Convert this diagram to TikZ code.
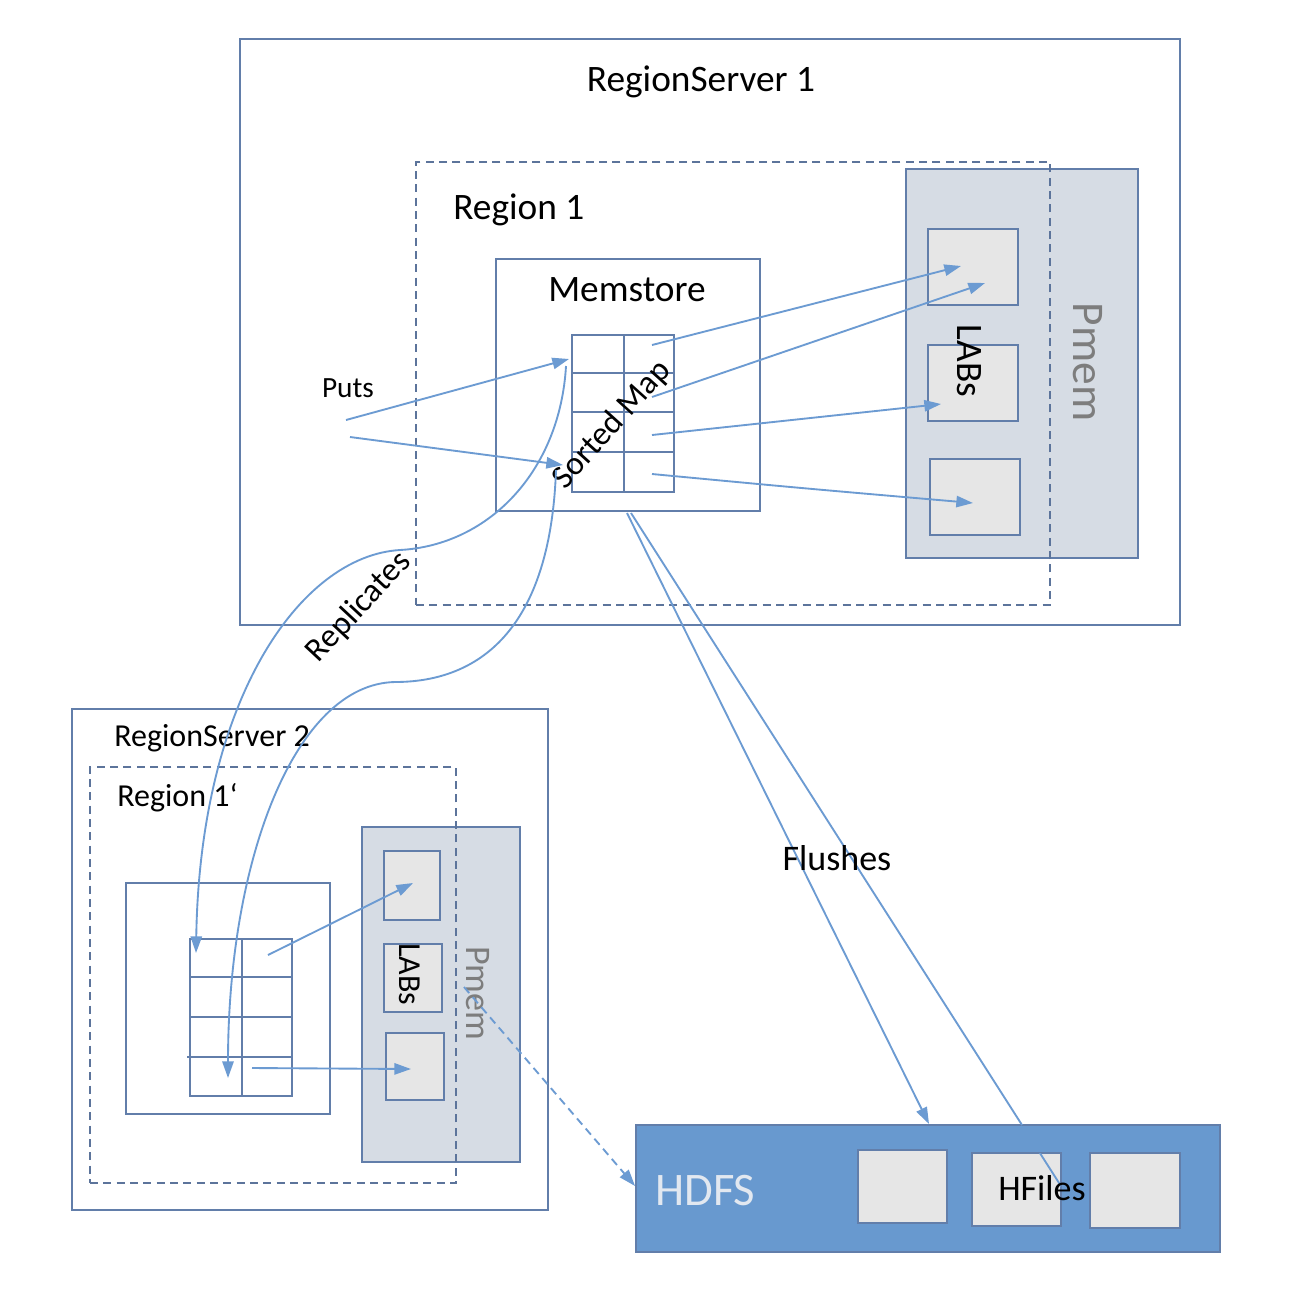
\documentclass[tikz,border=0pt]{standalone}
\usepackage{fontspec}
\setmainfont{Carlito}
\usetikzlibrary{arrows.meta,fit,calc}
\definecolor{boxline}{RGB}{98,126,170}
\definecolor{dashline}{RGB}{92,116,155}
\definecolor{arrowc}{RGB}{108,155,210}
\definecolor{pmemfill}{RGB}{214,220,228}
\definecolor{labfill}{RGB}{230,230,230}
\definecolor{hdfsfill}{RGB}{104,153,207}
\definecolor{pmemtext}{RGB}{125,125,125}
\definecolor{hdfstext}{RGB}{226,232,240}
\begin{document}
\begin{tikzpicture}[x=0.75pt,y=-0.75pt,
  box/.style={draw=boxline, line width=1.4pt, inner sep=0pt},
  regionbox/.style={draw=dashline, line width=1.3pt, dash pattern=on 6pt off 4pt, inner sep=0pt},
  pmembox/.style={box, fill=pmemfill},
  labbox/.style={box, fill=labfill},
  hdfsbox/.style={draw=boxline, fill=hdfsfill, line width=1.4pt, inner sep=0pt},
  gridline/.style={draw=boxline, line width=1.3pt},
  conn/.style={draw=arrowc, line width=1.4pt},
  arr/.style={conn, -{Triangle[length=12.5pt,width=8.5pt]}},
  lbl/.style={inner sep=0pt, text=black},
  big/.style={font=\fontsize{28}{32}\selectfont},
  mid/.style={font=\fontsize{24}{28}\selectfont},
  small/.style={font=\fontsize{22}{26}\selectfont},
]
\useasboundingbox (0,0) rectangle (1302,1290);
\fill[white] (0,0) rectangle (1302,1290);

% ---------- RegionServer 1 ----------
\node[box, fit={(240,39) (1180,625)}] (rs1) {};
\node[lbl, big] (trs1) at (701,82) {RegionServer 1};
\node[pmembox, fit={(906,169) (1138,558)}] (pmem1) {};
\node[regionbox, fit={(416,162) (1050,605)}] (reg1) {};
\node[lbl, big, anchor=west] (treg1) at (453,210) {Region 1};
\node[box, fit={(496,259) (760,511)}] (mem1) {};
\node[lbl, big] (tmem1) at (627,290) {Memstore};
\node[box, fit={(572,335) (674,492)}] (map1) {};
\draw[gridline] (624,335) -- (624,492);
\draw[gridline] (572,373) -- (674,373);
\draw[gridline] (572,412) -- (674,412);
\draw[gridline] (572,452) -- (674,452);
\node[labbox, fit={(928,229) (1018,305)}] (lab1a) {};
\node[labbox, fit={(928,345) (1018,421)}] (lab1b) {};
\node[labbox, fit={(930,459) (1020,535)}] (lab1c) {};
\node[lbl, big, rotate=-90] (tlabs1) at (969,361) {LABs};
\node[lbl, text=pmemtext, font=\fontsize{34}{40}\selectfont, rotate=-90] (tpmem1) at (1088,362) {Pmem};
\node[lbl, rotate=48, font=\fontsize{25}{30}\selectfont] (tmap1) at (612,425) {Sorted Map};

% ---------- Puts ----------
\node[lbl, small] (tputs) at (348,388) {Puts};
\coordinate (p1s) at (346,420);
\coordinate (p2s) at (350,437);
\coordinate (m1in1) at (569,359);
\coordinate (m1in2) at (563,465);
\draw[arr] (p1s) -- (m1in1);
\draw[arr] (p2s) -- (m1in2);

% ---------- Memstore -> LABs ----------
\coordinate (ms1) at (652,345);
\coordinate (ms2) at (652,397);
\coordinate (ms3) at (652,435);
\coordinate (ms4) at (652,474);
\coordinate (l1) at (961,266);
\coordinate (l2) at (985,283);
\coordinate (l3) at (941,404);
\coordinate (l4) at (973,503);
\draw[arr] (ms1) -- (l1);
\draw[arr] (ms2) -- (l2);
\draw[arr] (ms3) -- (l3);
\draw[arr] (ms4) .. controls (800,488) .. (l4);

% ---------- RegionServer 2 ----------
\node[box, fit={(72,709) (548,1210)}] (rs2) {};
\node[lbl, mid, anchor=west] (trs2) at (114,738) {RegionServer 2};
\node[pmembox, fit={(362,827) (520,1162)}] (pmem2) {};
\node[regionbox, fit={(90,767) (456,1183)}] (reg2) {};
\node[lbl, mid, anchor=west] (treg2) at (117,798) {Region 1\symbol{96}};
\node[box, fit={(126,883) (330,1114)}] (mem2) {};
\node[box, fit={(190,939) (292,1096)}] (map2) {};
\draw[gridline] (242,939) -- (242,1096);
\draw[gridline] (190,977) -- (292,977);
\draw[gridline] (190,1017) -- (292,1017);
\draw[gridline] (187,1057) -- (292,1057);
\node[labbox, fit={(384,851) (440,920)}] (lab2a) {};
\node[labbox, fit={(384,944) (442,1012)}] (lab2b) {};
\node[labbox, fit={(386,1033) (444,1100)}] (lab2c) {};
\node[lbl, mid, rotate=-90] (tlabs2) at (410,974) {LABs};
\node[lbl, text=pmemtext, font=\fontsize{27}{32}\selectfont, rotate=-90] (tpmem2) at (478,993) {Pmem};
\coordinate (m2s1) at (268,955);
\coordinate (m2s2) at (252,1068);
\coordinate (l2a) at (413,883);
\coordinate (l2c) at (411,1069);
\draw[arr] (m2s1) -- (l2a);
\draw[arr] (m2s2) -- (l2c);

% ---------- Replicates ----------
\coordinate (r1s) at (566,366);
\coordinate (r1e) at (196,953);
\coordinate (r2s) at (556,470);
\coordinate (r2e) at (228,1078);
\draw[arr] (r1s) .. controls (560,470) and (490,545) .. (400,550)
               .. controls (300,556) and (200,700) .. (r1e);
\draw[arr] (r2s) .. controls (550,640) and (470,682) .. (395,682)
               .. controls (295,684) and (228,860) .. (r2e);
\node[lbl, rotate=47, font=\fontsize{25}{30}\selectfont] (trep) at (359,607) {Replicates};

% ---------- HDFS ----------
\node[hdfsbox, fit={(636,1125) (1220,1252)}] (hdfs) {};
\node[lbl, anchor=west, text=hdfstext, font=\fontsize{35}{40}\selectfont] (thdfs) at (655,1190) {HDFS};
\node[labbox, fit={(858,1150) (947,1223)}] (hf1) {};
\node[labbox, fit={(972,1153) (1061,1226)}] (hf2) {};
\node[labbox, fit={(1090,1153) (1180,1228)}] (hf3) {};

% ---------- Flushes ----------
\coordinate (fs1) at (627,513);
\coordinate (fs2) at (631,513);
\coordinate (fe1) at (929,1124);
\coordinate (fe2) at (1022,1125);
\draw[arr] (fs1) -- (fe1);
\draw[conn] (fs2) -- (fe2);
\begin{scope}
  \clip (972,1153) rectangle (1061,1226);
  \draw[conn] (fs2) -- ($(fs2)!1.2!(fe2)$);
\end{scope}
\node[lbl, font=\fontsize{27}{32}\selectfont] (tflush) at (837,858) {Flushes};
\node[lbl, font=\fontsize{27}{32}\selectfont] (thf) at (1042,1188) {HFiles};

% ---------- Pmem -> HDFS ----------
\coordinate (pd) at (464,987);
\draw[arr, dash pattern=on 6pt off 4pt] (pd) -- (hdfs.west |- 0,1186);
\end{tikzpicture}
\end{document}
